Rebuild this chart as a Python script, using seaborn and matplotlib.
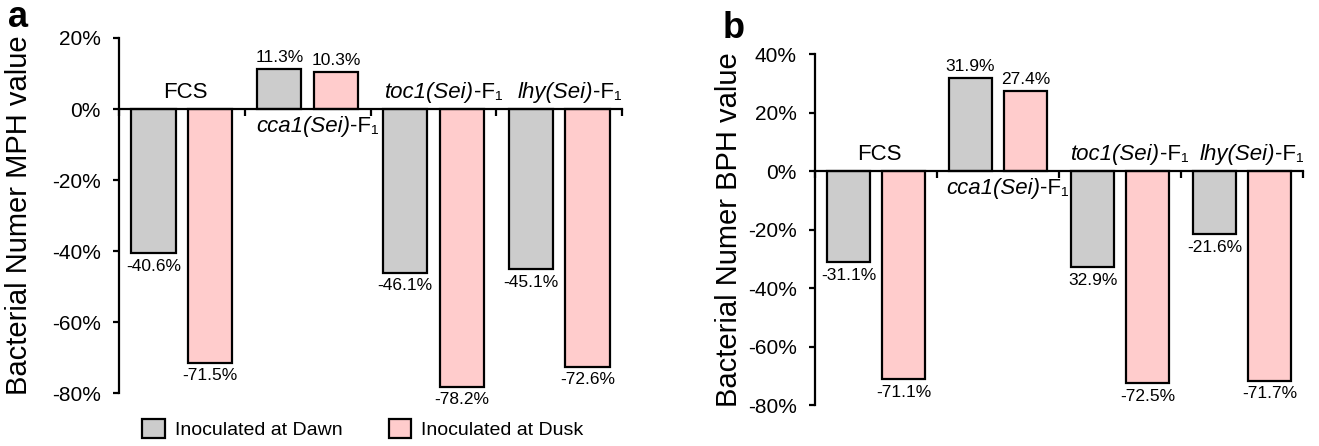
import matplotlib
matplotlib.use("Agg")
import matplotlib.pyplot as plt
import seaborn as sns
import pandas as pd
from matplotlib.patches import Patch
from matplotlib.offsetbox import TextArea, HPacker, AnnotationBbox
from matplotlib import font_manager as fm

# ---------------- data ----------------
groups = ["FCS", "cca1", "toc1", "lhy"]
group_italic = ["", "cca1(Sei)", "toc1(Sei)", "lhy(Sei)"]
group_plain = ["FCS", "-F\u2081", "-F\u2081", "-F\u2081"]
group_label_above = [True, False, True, True]
series = ["Inoculated at Dawn", "Inoculated at Dusk"]

mph_dawn = [-40.6, 11.3, -46.1, -45.1]
mph_dusk = [-71.5, 10.3, -78.2, -72.6]
mph_dawn_txt = ["-40.6%", "11.3%", "-46.1%", "-45.1%"]
mph_dusk_txt = ["-71.5%", "10.3%", "-78.2%", "-72.6%"]

bph_dawn = [-31.1, 31.9, -32.9, -21.6]
bph_dusk = [-71.1, 27.4, -72.5, -71.7]
bph_dawn_txt = ["-31.1%", "31.9%", "32.9%", "-21.6%"]
bph_dusk_txt = ["-71.1%", "27.4%", "-72.5%", "-71.7%"]

mph_ticks = [20, 0, -20, -40, -60, -80]
bph_ticks = [40, 20, 0, -20, -40, -60, -80]

colors = ["#CCCCCC", "#FFCCCC"]

# ---------------- style ----------------
sns.set_theme(style="white")
FAM = ["Liberation Sans", "DejaVu Sans"]
plt.rcParams["font.family"] = FAM
plt.rcParams["text.color"] = "black"
plt.rcParams["axes.labelcolor"] = "black"
plt.rcParams["xtick.color"] = "black"
plt.rcParams["ytick.color"] = "black"
plt.rcParams["axes.edgecolor"] = "black"
plt.rcParams["axes.unicode_minus"] = False

# find a regular-weight italic face (prefer Arial-like Liberation Sans)
italic_file = None
for fam in ["Liberation Sans", "Arimo", "Roboto", "Noto Sans", "Open Sans", "Lato"]:
    cands = [f for f in fm.fontManager.ttflist
             if f.name == fam and f.style == "italic"
             and (f.weight in (400, "normal", "regular", "book"))
             and "Narrow" not in f.fname]
    if cands:
        italic_file = cands[0].fname
        break
if italic_file:
    ITALIC_PROPS = dict(fontproperties=fm.FontProperties(fname=italic_file, size=16))
else:
    ITALIC_PROPS = dict(fontsize=16, fontstyle="italic", family=FAM)

fig = plt.figure(figsize=(13.19, 4.46), dpi=100)
ax_a = fig.add_axes([0.0902, 0.1188, 0.3814, 0.7960])
ax_b = fig.add_axes([0.6179, 0.0919, 0.3700, 0.7870])


def make_df(dawn, dusk):
    rows = []
    for g, v in zip(groups, dawn):
        rows.append({"group": g, "series": series[0], "value": v})
    for g, v in zip(groups, dusk):
        rows.append({"group": g, "series": series[1], "value": v})
    return pd.DataFrame(rows)


def group_label(ax, i, italic, plain, above, dx):
    parts = []
    if italic:
        tp = dict(ITALIC_PROPS)
        tp["color"] = "black"
        parts.append(TextArea(italic, textprops=tp))
    parts.append(TextArea(plain, textprops=dict(fontsize=16, fontweight="normal",
                                                family=FAM, color="black")))
    box = HPacker(children=parts, pad=0, sep=0, align="baseline")
    if above:
        ab = AnnotationBbox(box, (i + dx, 0), xybox=(0, 4), boxcoords="offset points",
                            box_alignment=(0.5, 0.0), frameon=False, pad=0,
                            annotation_clip=False)
    else:
        ab = AnnotationBbox(box, (i + dx, 0), xybox=(0, -5), boxcoords="offset points",
                            box_alignment=(0.5, 1.0), frameon=False, pad=0,
                            annotation_clip=False)
    ax.add_artist(ab)


def draw(ax, dawn, dusk, dawn_txt, dusk_txt, ticks, ylabel, label_x, label_fs):
    df = make_df(dawn, dusk)
    sns.barplot(data=df, x="group", y="value", hue="series", order=groups,
                hue_order=series, palette=colors, width=0.9, gap=0.22,
                edgecolor="black", linewidth=1.6, legend=False, ax=ax,
                saturation=1, errorbar=None)
    ax.set_xlim(-0.5, 3.5)
    ax.set_ylim(min(ticks), max(ticks))
    ax.set_yticks(ticks)
    ax.set_yticklabels([f"{t}%" for t in ticks], fontsize=15)
    ax.set_xticks([-0.5, 0.5, 1.5, 2.5, 3.5])
    ax.set_xticklabels([""] * 5)
    ax.set_xlabel("")
    ax.set_ylabel(ylabel, fontsize=label_fs)
    ax.yaxis.set_label_coords(label_x, 0.5)
    for s in ["top", "right"]:
        ax.spines[s].set_visible(False)
    ax.spines["bottom"].set_position(("data", 0))
    for s in ["left", "bottom"]:
        ax.spines[s].set_linewidth(1.6)
        ax.spines[s].set_color("black")
    ax.tick_params(axis="y", direction="out", length=4, width=1.6, pad=9,
                   left=True, colors="black")
    ax.tick_params(axis="x", direction="out", length=5, width=1.6,
                   bottom=True, colors="black")
    for c, txts in zip(ax.containers, [dawn_txt, dusk_txt]):
        for bar, t in zip(c, txts):
            h = bar.get_height()
            x = bar.get_x() + bar.get_width() / 2
            if h >= 0:
                ax.annotate(t, (x, h), xytext=(0, 3), textcoords="offset points",
                            ha="center", va="bottom", fontsize=12.5,
                            annotation_clip=False)
            else:
                ax.annotate(t, (x, h), xytext=(0, -4), textcoords="offset points",
                            ha="center", va="top", fontsize=12.5,
                            annotation_clip=False)
    for i in range(len(groups)):
        dx = 0.03 if i == 0 else 0.08
        group_label(ax, i, group_italic[i], group_plain[i], group_label_above[i], dx)


draw(ax_a, mph_dawn, mph_dusk, mph_dawn_txt, mph_dusk_txt, mph_ticks,
     "Bacterial Numer MPH value", -0.17, 21)
draw(ax_b, bph_dawn, bph_dusk, bph_dawn_txt, bph_dusk_txt, bph_ticks,
     "Bacterial Numer BPH value", -0.148, 21)

fig.text(0.006, 1.0, "a", fontsize=26, fontweight="bold", ha="left", va="top")
fig.text(0.548, 0.975, "b", fontsize=26, fontweight="bold", ha="left", va="top")

handles = [Patch(facecolor=c, edgecolor="black", linewidth=1.6) for c in colors]
fig.legend(handles, series, loc="center left", bbox_to_anchor=(0.108, 0.038),
           frameon=False, fontsize=14, ncol=2, handlelength=1.15,
           handleheight=1.15, handletextpad=0.5, columnspacing=2.4,
           borderpad=0, borderaxespad=0)

fig.savefig("out.png", dpi=100)
